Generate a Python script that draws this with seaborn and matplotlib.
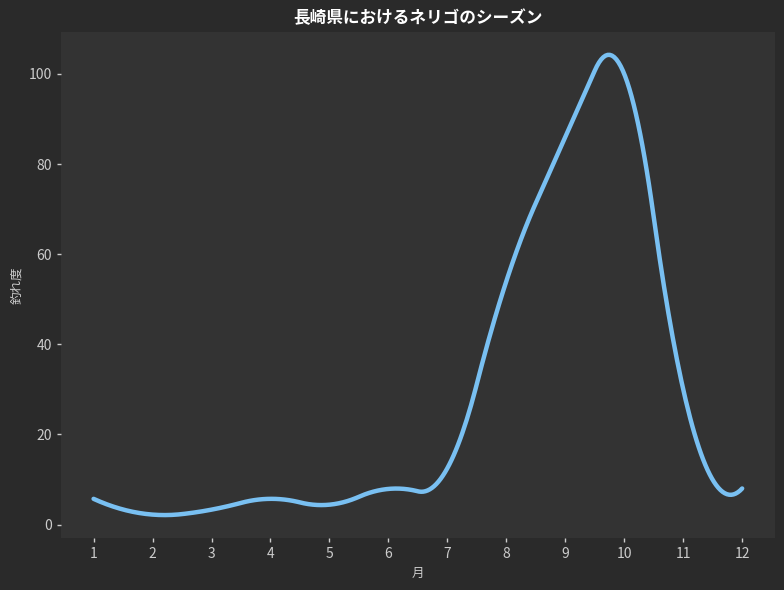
import numpy as np
import pandas as pd
import matplotlib
matplotlib.use("Agg")
import matplotlib.pyplot as plt
import seaborn as sns

# --- DATA ---
months = [1, 2, 3, 4, 5, 6, 7, 8, 9, 10, 11, 12]
catch_level = [5.7, 2.2, 3.3, 5.7, 4.4, 7.9, 12.5, 54.0, 86.0, 100.0, 30.0, 8.0]

title = "長崎県におけるネリゴのシーズン"
xlabel = "月"
ylabel = "釣れ度"


# --- SMOOTHING (quadratic interpolating spline, knots between the months) ---
def quad_spline(x, y, num=300):
    x = np.asarray(x, float)
    y = np.asarray(y, float)
    mids = (x[1:] + x[:-1]) / 2
    knots = np.r_[x[0], mids[1:-1], x[-1]]
    m = len(knots) - 1
    A = np.zeros((3 * m, 3 * m))
    b = np.zeros(3 * m)
    r = 0
    # pass through every point
    for xi, yi in zip(x, y):
        j = min(np.searchsorted(knots, xi, side="right") - 1, m - 1)
        d = xi - knots[j]
        A[r, 3 * j:3 * j + 3] = [1, d, d * d]
        b[r] = yi
        r += 1
    # value and slope continuous at the knots
    for j in range(m - 1):
        d = knots[j + 1] - knots[j]
        A[r, 3 * j:3 * j + 3] = [1, d, d * d]
        A[r, 3 * j + 3] = -1
        r += 1
        A[r, 3 * j + 1:3 * j + 3] = [1, 2 * d]
        A[r, 3 * j + 4] = -1
        r += 1
    c = np.linalg.solve(A, b)
    xs = np.linspace(x[0], x[-1], num)
    j = np.clip(np.searchsorted(knots, xs, side="right") - 1, 0, m - 1)
    d = xs - knots[j]
    return xs, c[3 * j] + c[3 * j + 1] * d + c[3 * j + 2] * d * d


xs, ys = quad_spline(months, catch_level)
df = pd.DataFrame({"month": xs, "level": ys})

# --- STYLE ---
sns.set_theme(style="dark", rc={
    "figure.facecolor": "#2a2a2a",
    "axes.facecolor": "#333333",
    "axes.edgecolor": "#333333",
    "text.color": "white",
    "axes.labelcolor": "#cccccc",
    "xtick.color": "#cccccc",
    "ytick.color": "#cccccc",
    "xtick.bottom": True,
    "ytick.left": True,
})
plt.rcParams["font.family"] = ["Noto Sans CJK JP", "DejaVu Sans"]

fig, ax = plt.subplots(figsize=(7.84, 5.9), dpi=100)
fig.subplots_adjust(left=0.078, right=0.988, top=0.946, bottom=0.088)

sns.lineplot(data=df, x="month", y="level", ax=ax, color="#79c0f2", linewidth=3.2)

ax.set_xticks(months)
ax.set_title(title, fontsize=12, fontweight="bold", color="white")
ax.set_xlabel(xlabel, fontsize=9)
ax.set_ylabel(ylabel, fontsize=9)
ax.tick_params(axis="both", labelsize=10, length=3, width=1)
for s in ax.spines.values():
    s.set_visible(False)

plt.savefig("out.png", dpi=100, facecolor=fig.get_facecolor())
